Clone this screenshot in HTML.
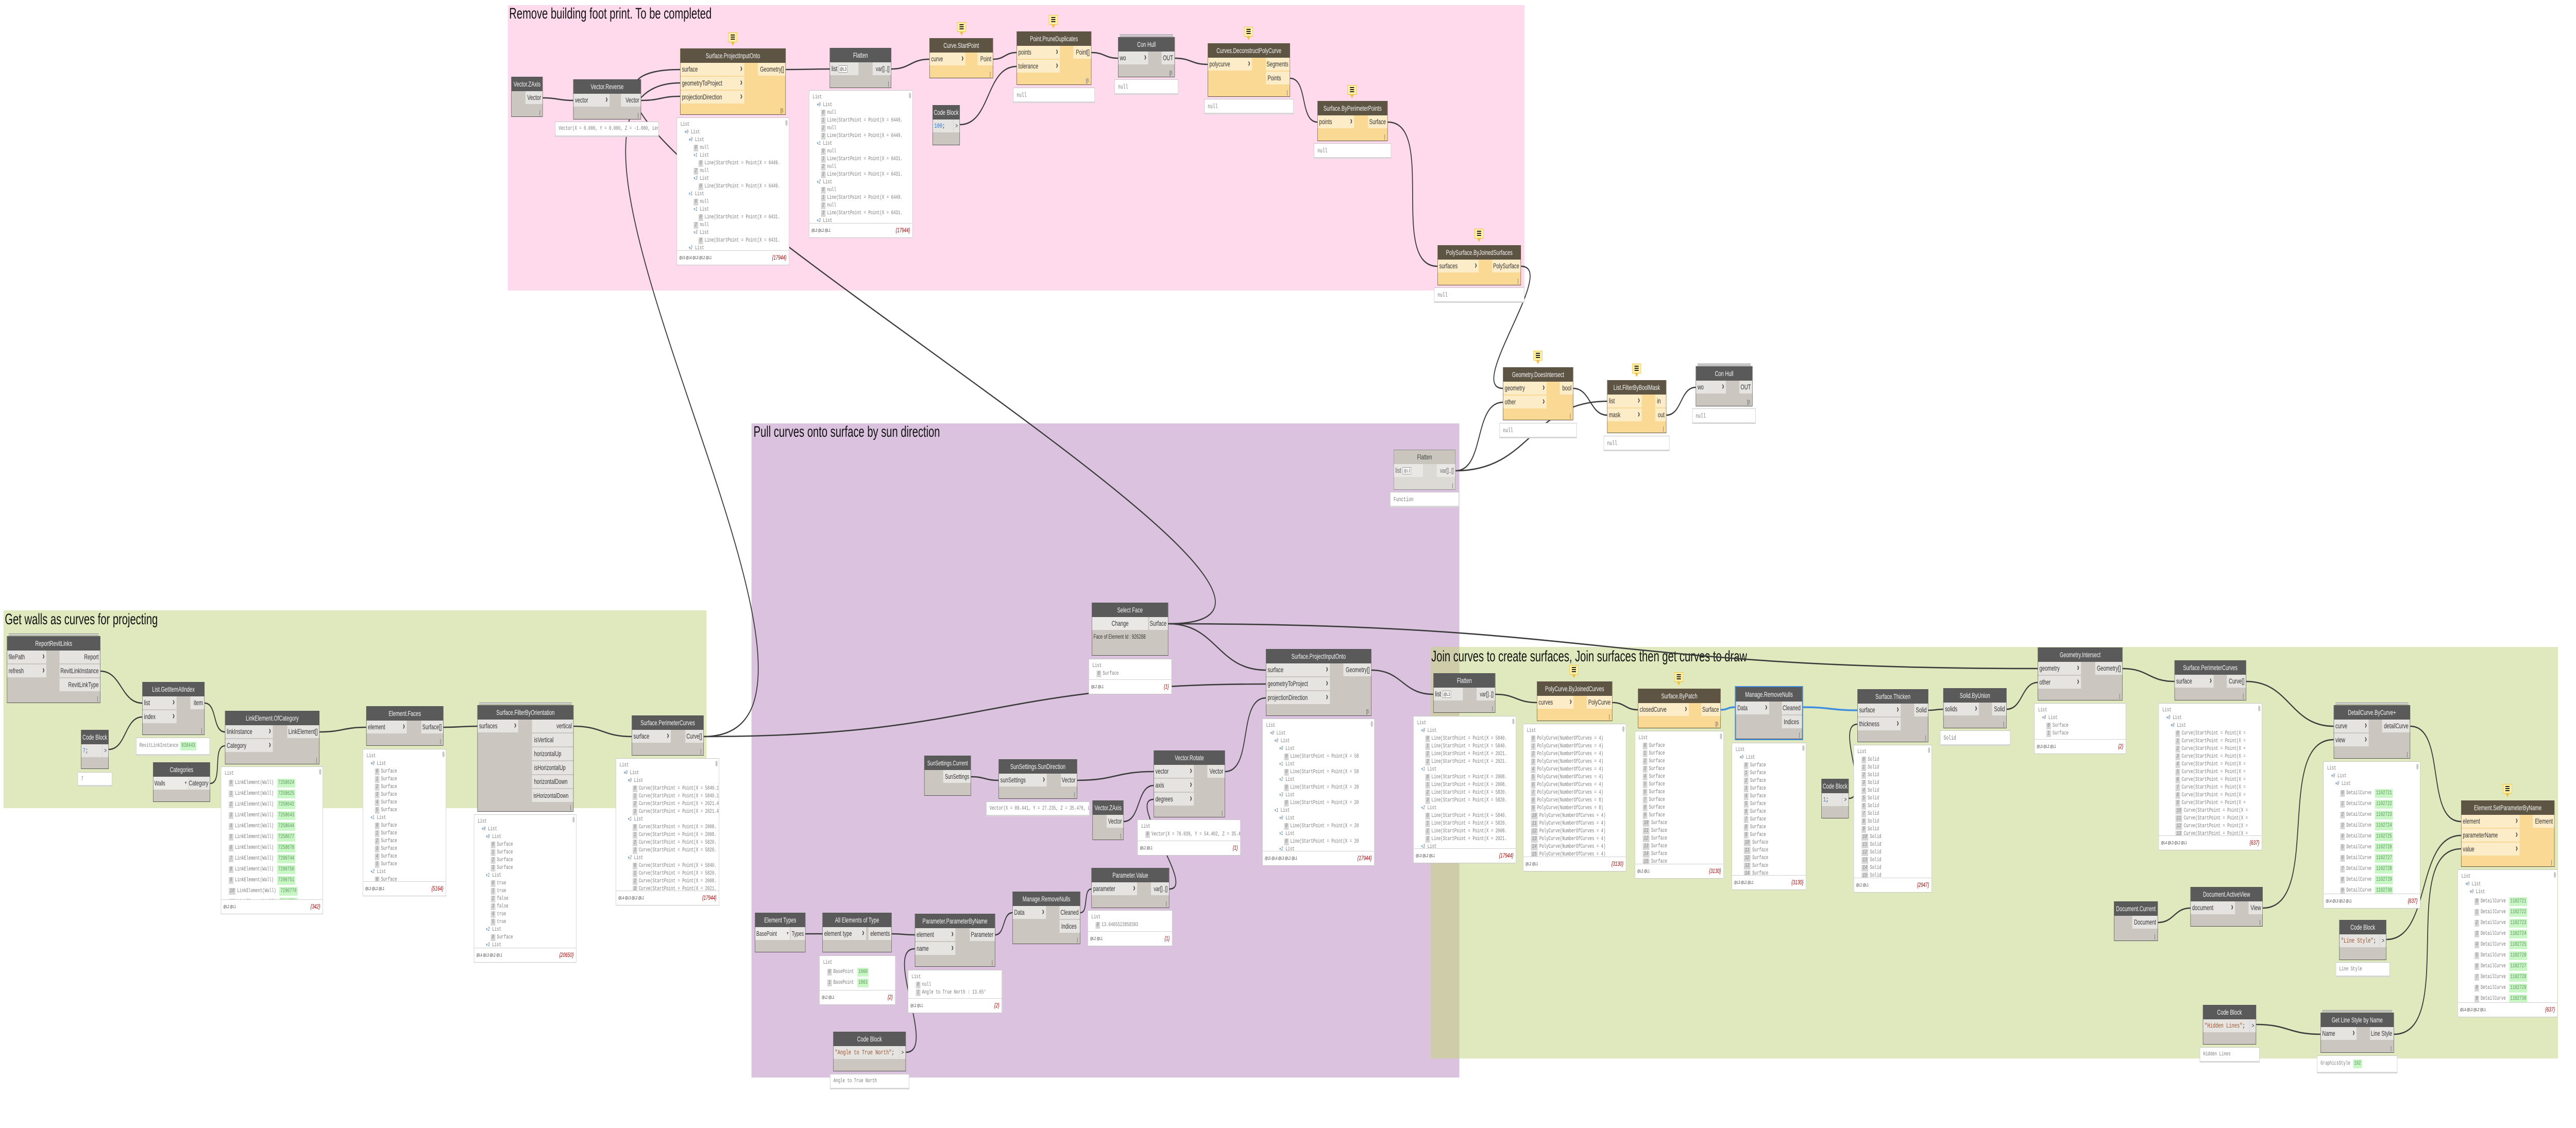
<!DOCTYPE html>
<html><head><meta charset="utf-8">
<style>
html,body{margin:0;padding:0;width:100%;height:100%;overflow:hidden;background:#fff}
#root{position:absolute;left:0;top:0;width:100vw;height:100vh;display:block}
#c{position:relative;width:7442px;height:2190px;overflow:hidden;background:#fff;font-family:"Liberation Sans",sans-serif}
.g{position:absolute;z-index:0}
.gt{position:absolute;font-size:30px;line-height:30px;color:#111;white-space:nowrap;z-index:1;font-family:"Liberation Sans",sans-serif}
svg.w{position:absolute;left:0;top:0;z-index:1}
.n{position:absolute;box-sizing:border-box;border:1px solid #555;background:#cbc7c0;z-index:2;font-family:"Liberation Sans",sans-serif}
.n .h{position:absolute;left:0;right:0;top:0;height:27px;background:#5a5a5a;color:#f5f5f5;font-size:14px;line-height:27px;text-align:center;white-space:nowrap;overflow:hidden}
.p{position:absolute;height:25px;line-height:25px;font-size:14px;color:#333;background:#e5e4e1;white-space:nowrap;overflow:hidden;box-sizing:border-box}
.pi{left:0;padding-left:4px}
.pi:after{content:"\203A";position:absolute;right:5px;top:0;font-weight:bold;font-size:20px;line-height:22px;color:#444}
.po{right:0;padding-right:4px;text-align:right}
.cb{left:0;padding-left:4px;font-family:"Liberation Mono",monospace;font-size:13px}
.cbo{right:0;width:18px;text-align:center;font-size:12px;border-left:1px solid #ccc}
.dd{left:0;padding-left:3px;font-size:13px;background:#ecebe8}
.dd:after{content:"\25BE";position:absolute;right:4px;top:0;font-size:10px;color:#666}
.o{background:#fad995;border-color:#5e5444}
.o .h{background:#5e5444}
.o .p{background:#fdecc8}
.fz{background:#dcdad5;border-color:#8a8a8a}
.fz .h{background:#cac6be;color:#444}
.fz .p{background:#e9e8e5;color:#666}
.f{position:absolute;right:6px;bottom:1px;font-size:11px;color:#555;font-style:normal}
.st:before{content:"";position:absolute;left:4px;right:4px;top:-6px;height:2px;border-top:1px solid #8a8a8a;border-bottom:1px solid #8a8a8a;background:#ddd}
.sel{outline:2px solid #3d8de0}
.lv3{display:inline-block;border:1px solid #999;background:#fff;font-size:9px;line-height:12px;padding:0 2px;margin-left:4px;vertical-align:middle}
.blue{color:#2a7ad5}
.str{color:#a0522d}
.cm{position:absolute;width:26px;height:19px;background:#fff0a6;border:1px solid #f0c040;box-sizing:border-box;z-index:3}
.cm:before{content:"";position:absolute;left:6px;top:3px;width:12px;height:2px;background:#222;box-shadow:0 4px 0 #222,0 8px 0 #222}
.cm:after{content:"";position:absolute;left:7px;top:18px;border-left:5px solid transparent;border-right:5px solid transparent;border-top:7px solid #f0c040}
.pv{position:absolute;box-sizing:border-box;background:#fff;border:1px solid #c6c6c6;font-family:"Liberation Mono",monospace;font-size:11px;color:#7a7a7a;overflow:hidden;z-index:2}
.pv.s{border-bottom:3px solid #d6d6d6;padding:7px 0 0 9px;font-size:12px;white-space:nowrap}
.pv .b{position:absolute;left:0;right:0;top:0;bottom:27px;padding:6px 0 0 10px;overflow:hidden}
.pv .ft{position:absolute;left:0;right:0;bottom:0;height:27px;border-top:1px solid #d0d0d0;font-family:"Liberation Sans",sans-serif}
.ft .lv{position:absolute;left:6px;top:9px;font-size:8px;color:#333}
.ft .ct{position:absolute;right:7px;top:6px;font-size:12px;color:#a00;font-style:italic}
.sb{position:absolute;right:4px;top:4px;width:6px;height:11px;border-radius:3px;background:#c8c8c8}
.r{height:15px;line-height:15px;white-space:nowrap;overflow:hidden}
.R{height:21px;line-height:21px;white-space:nowrap;overflow:hidden}
.x{display:inline-block;background:#d6d6d6;color:#888;font-style:italic;padding:0 3px;margin-right:5px;line-height:13px}
.gr{display:inline-block;background:#c8f7c5;color:#5a935a;padding:0 3px;margin-left:10px;line-height:17px;font-weight:normal}
.t{color:#5b9bd5;font-weight:normal;font-family:"DejaVu Sans",sans-serif;font-size:9px}
.a1{padding-left:12px}.a2{padding-left:24px}.a3{padding-left:38px}.a4{padding-left:52px}
</style></head><body>
<svg id="root" xmlns="http://www.w3.org/2000/svg" viewBox="0 0 7442 2190" preserveAspectRatio="none">
<foreignObject x="0" y="0" width="7442" height="2190">
<div id="c" xmlns="http://www.w3.org/1999/xhtml">

<!-- GROUPS -->
<div class="g" style="left:1467px;top:10px;width:2937px;height:554px;background:#ffd9ec"></div>
<div class="g" style="left:2171px;top:822px;width:2045px;height:1270px;background:#dbc3e0"></div>
<div class="g" style="left:10px;top:1185px;width:2031px;height:384px;background:#e0e8bd"></div>
<div class="g" style="left:4133px;top:1256px;width:3257px;height:799px;background:#e0e8bd"></div>
<div class="g" style="left:4133px;top:1256px;width:83px;height:799px;background:#cfcca9"></div>

<div class="gt" style="left:1471px;top:12px">Remove building foot print. To be completed</div>
<div class="gt" style="left:2177px;top:824px">Pull curves onto surface by sun direction</div>
<div class="gt" style="left:14px;top:1188px">Get walls as curves for projecting</div>
<div class="gt" style="left:4135px;top:1260px">Join curves to create surfaces, Join surfaces then get curves to draw</div>

<!-- WIRES -->
<svg class="w" xmlns="http://www.w3.org/2000/svg" width="7442" height="2190" viewBox="0 0 7442 2190">
<g fill="none" stroke="#3b3b3b" stroke-width="2.6">
<path d="M290 1303 C351 1303 350 1365 411 1365"/>
<path d="M314 1455 C365 1455 360 1392 411 1392"/>
<path d="M591 1365 C628 1365 613 1421 650 1421"/>
<path d="M607 1521 C645 1521 612 1448 650 1448"/>
<path d="M923 1421 C991 1421 990 1412 1058 1412"/>
<path d="M1281 1412 C1330 1412 1330 1410 1379 1410"/>
<path d="M1657 1410 C1741 1410 1741 1430 1825 1430"/>
<path d="M2033 1430 C2845 1430 2845 1328 3657 1328"/>
<path d="M2033 1430 C2605 1430 1393 161 1965 161"/>
<path d="M1568 190 C1612 190 1612 195 1656 195"/>
<path d="M1852 195 C1909 195 1908 187 1965 187"/>
<path d="M3375 1211 C4173 1211 1167 135 1965 135"/>
<path d="M2270 135 C2334 135 2333 134 2397 134"/>
<path d="M2575 134 C2630 134 2630 115 2685 115"/>
<path d="M2869 115 C2903 115 2903 102 2937 102"/>
<path d="M2773 242 C2863 242 2847 129 2937 129"/>
<path d="M3153 102 C3192 102 3191 113 3230 113"/>
<path d="M3394 113 C3442 113 3441 125 3489 125"/>
<path d="M3727 152 C3779 152 3754 237 3806 237"/>
<path d="M4009 237 C4151 237 4011 517 4153 517"/>
<path d="M4394 517 C4503 517 4233 754 4342 754"/>
<path d="M4205 914 C4291 914 4256 781 4342 781"/>
<path d="M4205 914 C4424 914 4424 779 4643 779"/>
<path d="M4545 754 C4595 754 4593 806 4643 806"/>
<path d="M4814 806 C4859 806 4854 752 4899 752"/>
<path d="M3375 1211 C3516 1211 3516 1301 3657 1301"/>
<path d="M3539 1498 C3622 1498 3574 1355 3657 1355"/>
<path d="M2805 1508 C2845 1508 2845 1515 2885 1515"/>
<path d="M3112 1515 C3223 1515 3222 1498 3333 1498"/>
<path d="M3246 1595 C3296 1595 3283 1525 3333 1525"/>
<path d="M3378 1726 C3459 1726 3252 1552 3333 1552"/>
<path d="M2327 1813 C2352 1813 2351 1813 2376 1813"/>
<path d="M2576 1813 C2610 1813 2609 1815 2643 1815"/>
<path d="M2617 2043 C2709 2043 2551 1842 2643 1842"/>
<path d="M2875 1815 C2905 1815 2895 1772 2925 1772"/>
<path d="M3121 1772 C3146 1772 3128 1726 3153 1726"/>
<path d="M3962 1301 C4052 1301 4051 1348 4141 1348"/>
<path d="M3375 1211 C4631 1211 4631 1298 5887 1298"/>
<path d="M4320 1348 C4380 1348 4380 1364 4440 1364"/>
<path d="M4658 1364 C4695 1364 4695 1378 4732 1378"/>
<path d="M5341 1550 C5407 1550 5300 1406 5366 1406"/>
<path d="M5571 1379 C5593 1379 5592 1377 5614 1377"/>
<path d="M5797 1377 C5844 1377 5840 1325 5887 1325"/>
<path d="M6132 1298 C6207 1298 6207 1323 6282 1323"/>
<path d="M6489 1323 C6616 1323 6615 1410 6742 1410"/>
<path d="M6234 1791 C6281 1791 6281 1763 6328 1763"/>
<path d="M6537 1763 C6711 1763 6568 1436 6742 1436"/>
<path d="M6963 1410 C7069 1410 7004 1595 7110 1595"/>
<path d="M6894 1824 C7026 1824 6978 1622 7110 1622"/>
<path d="M6518 1989 C6611 1989 6611 2008 6704 2008"/>
<path d="M6916 2008 C7100 2008 6926 1648 7110 1648"/>
</g>
<g fill="none" stroke="#3d8de0" stroke-width="3.5">
<path d="M4971 1378 C4992 1378 4991 1373 5012 1373"/>
<path d="M5209 1373 C5288 1373 5287 1379 5366 1379"/>
</g>
</svg>

<!-- LEFT GREEN NODES -->
<div class="n st" style="left:20px;top:1235px;width:270px;height:130px"><div class="h">ReportRevitLinks</div>
<div class="p pi" style="top:27px;width:113px">filePath</div><div class="p pi" style="top:54px;width:113px">refresh</div>
<div class="p po" style="top:27px;width:117px">Report</div><div class="p po" style="top:54px;width:117px">RevitLinkInstance</div><div class="p po" style="top:81px;width:117px">RevitLinkType</div><i class="f">|</i></div>

<div class="n" style="left:411px;top:1324px;width:180px;height:103px"><div class="h">List.GetItemAtIndex</div>
<div class="p pi" style="top:27px;width:98px">list</div><div class="p pi" style="top:54px;width:98px">index</div>
<div class="p po" style="top:27px;width:40px">item</div><i class="f">|</i></div>
<div class="pv s" style="left:393px;top:1432px;width:213px;height:35px;font-size:11px">RevitLinkInstance<b class="gr" style="margin-left:6px">838443</b></div>

<div class="n" style="left:234px;top:1417px;width:80px;height:76px"><div class="h">Code Block</div>
<div class="p cb" style="top:27px;width:62px"><span class="blue">7</span>;</div><div class="p cbo" style="top:27px">&gt;</div></div>
<div class="pv s" style="left:224px;top:1499px;width:100px;height:28px;font-size:11px">7</div>

<div class="n" style="left:442px;top:1480px;width:165px;height:77px"><div class="h">Categories</div>
<div class="p dd" style="top:27px;width:100px">Walls</div><div class="p po" style="top:27px;width:64px">Category</div></div>

<div class="n" style="left:650px;top:1380px;width:273px;height:104px"><div class="h">LinkElement.OfCategory</div>
<div class="p pi" style="top:27px;width:137px">linkInstance</div><div class="p pi" style="top:54px;width:137px">Category</div>
<div class="p po" style="top:27px;width:92px">LinkElement[]</div><i class="f">|</i></div>
<div class="pv" style="left:638px;top:1488px;width:295px;height:287px"><div class="b"><div class="r">List</div>
<div class="R a1"><i class="x">0</i>LinkElement(Wall)<b class="gr">7258624</b></div>
<div class="R a1"><i class="x">1</i>LinkElement(Wall)<b class="gr">7258625</b></div>
<div class="R a1"><i class="x">2</i>LinkElement(Wall)<b class="gr">7258642</b></div>
<div class="R a1"><i class="x">3</i>LinkElement(Wall)<b class="gr">7258643</b></div>
<div class="R a1"><i class="x">4</i>LinkElement(Wall)<b class="gr">7258644</b></div>
<div class="R a1"><i class="x">5</i>LinkElement(Wall)<b class="gr">7258677</b></div>
<div class="R a1"><i class="x">6</i>LinkElement(Wall)<b class="gr">7258678</b></div>
<div class="R a1"><i class="x">7</i>LinkElement(Wall)<b class="gr">7290744</b></div>
<div class="R a1"><i class="x">8</i>LinkElement(Wall)<b class="gr">7290750</b></div>
<div class="R a1"><i class="x">9</i>LinkElement(Wall)<b class="gr">7290751</b></div>
<div class="R a1"><i class="x">10</i>LinkElement(Wall)<b class="gr">7290770</b></div>
<div class="R a1"><i class="x">11</i>LinkElement(Wall)<b class="gr">7290771</b></div>
</div><div class="ft"><span class="lv">@L2 @L1</span><span class="ct">{342}</span></div><span class="sb"></span></div>

<div class="n" style="left:1058px;top:1371px;width:223px;height:77px"><div class="h">Element.Faces</div>
<div class="p pi" style="top:27px;width:116px">element</div><div class="p po" style="top:27px;width:63px">Surface[]</div><i class="f">|</i></div>
<div class="pv" style="left:1048px;top:1454px;width:241px;height:286px"><div class="b"><div class="r">List</div>
<div class="r a1"><b class="t">▾</b><i>0</i> List</div>
<div class="r a2"><i class="x">0</i>Surface</div><div class="r a2"><i class="x">1</i>Surface</div><div class="r a2"><i class="x">2</i>Surface</div><div class="r a2"><i class="x">3</i>Surface</div><div class="r a2"><i class="x">4</i>Surface</div><div class="r a2"><i class="x">5</i>Surface</div>
<div class="r a1"><b class="t">▾</b><i>1</i> List</div>
<div class="r a2"><i class="x">0</i>Surface</div><div class="r a2"><i class="x">1</i>Surface</div><div class="r a2"><i class="x">2</i>Surface</div><div class="r a2"><i class="x">3</i>Surface</div><div class="r a2"><i class="x">4</i>Surface</div><div class="r a2"><i class="x">5</i>Surface</div>
<div class="r a1"><b class="t">▾</b><i>2</i> List</div>
<div class="r a2"><i class="x">0</i>Surface</div>
</div><div class="ft"><span class="lv">@L3 @L2 @L1</span><span class="ct">{5164}</span></div><span class="sb"></span></div>

<div class="n st" style="left:1379px;top:1369px;width:278px;height:207px"><div class="h">Surface.FilterByOrientation</div>
<div class="p pi" style="top:27px;width:117px">surfaces</div>
<div class="p po" style="top:27px;width:119px">vertical</div><div class="p po" style="top:54px;width:119px;text-align:left;padding-left:6px">isVertical</div><div class="p po" style="top:81px;width:119px;text-align:left;padding-left:6px">horizontalUp</div><div class="p po" style="top:108px;width:119px;text-align:left;padding-left:6px">isHorizontalUp</div><div class="p po" style="top:135px;width:119px;text-align:left;padding-left:6px">horizontalDown</div><div class="p po" style="top:162px;width:119px;text-align:left;padding-left:4px;font-size:13px">isHorizontalDown</div><i class="f">|</i></div>
<div class="pv" style="left:1369px;top:1581px;width:296px;height:288px"><div class="b"><div class="r">List</div>
<div class="r a1"><b class="t">▾</b><i>0</i> List</div>
<div class="r a2"><b class="t">▾</b><i>0</i> List</div>
<div class="r a3"><i class="x">0</i>Surface</div><div class="r a3"><i class="x">1</i>Surface</div><div class="r a3"><i class="x">2</i>Surface</div><div class="r a3"><i class="x">3</i>Surface</div>
<div class="r a2"><b class="t">▾</b><i>1</i> List</div>
<div class="r a3"><i class="x">0</i>true</div><div class="r a3"><i class="x">1</i>true</div><div class="r a3"><i class="x">2</i>false</div><div class="r a3"><i class="x">3</i>false</div><div class="r a3"><i class="x">4</i>true</div><div class="r a3"><i class="x">5</i>true</div>
<div class="r a2"><b class="t">▾</b><i>2</i> List</div>
<div class="r a3"><i class="x">0</i>Surface</div>
<div class="r a2"><b class="t">▾</b><i>3</i> List</div>
</div><div class="ft"><span class="lv">@L4 @L3 @L2 @L1</span><span class="ct">{20650}</span></div><span class="sb"></span></div>

<div class="n" style="left:1825px;top:1389px;width:208px;height:78px"><div class="h">Surface.PerimeterCurves</div>
<div class="p pi" style="top:27px;width:112px">surface</div><div class="p po" style="top:27px;width:52px">Curve[]</div><i class="f">|</i></div>
<div class="pv" style="left:1779px;top:1472px;width:299px;height:286px"><div class="b"><div class="r">List</div>
<div class="r a1"><b class="t">▾</b><i>0</i> List</div>
<div class="r a2"><b class="t">▾</b><i>0</i> List</div>
<div class="r a3"><i class="x">0</i>Curve(StartPoint = Point(X = 5840.1</div><div class="r a3"><i class="x">1</i>Curve(StartPoint = Point(X = 5840.1</div><div class="r a3"><i class="x">2</i>Curve(StartPoint = Point(X = 2021.4</div><div class="r a3"><i class="x">3</i>Curve(StartPoint = Point(X = 2021.4</div>
<div class="r a2"><b class="t">▾</b><i>1</i> List</div>
<div class="r a3"><i class="x">0</i>Curve(StartPoint = Point(X = 2008.</div><div class="r a3"><i class="x">1</i>Curve(StartPoint = Point(X = 2008.</div><div class="r a3"><i class="x">2</i>Curve(StartPoint = Point(X = 5820.</div><div class="r a3"><i class="x">3</i>Curve(StartPoint = Point(X = 5820.</div>
<div class="r a2"><b class="t">▾</b><i>2</i> List</div>
<div class="r a3"><i class="x">0</i>Curve(StartPoint = Point(X = 5840.</div><div class="r a3"><i class="x">1</i>Curve(StartPoint = Point(X = 5820.</div><div class="r a3"><i class="x">2</i>Curve(StartPoint = Point(X = 2008.</div><div class="r a3"><i class="x">3</i>Curve(StartPoint = Point(X = 2021.</div>
</div><div class="ft"><span class="lv">@L4 @L3 @L2 @L1</span><span class="ct">{17944}</span></div><span class="sb"></span></div>

<!-- PINK NODES -->
<div class="n" style="left:1477px;top:149px;width:91px;height:78px"><div class="h">Vector.ZAxis</div>
<div class="p po" style="top:27px;width:49px">Vector</div><i class="f">|</i></div>

<div class="n" style="left:1656px;top:154px;width:196px;height:78px"><div class="h">Vector.Reverse</div>
<div class="p pi" style="top:27px;width:104px">vector</div><div class="p po" style="top:27px;width:57px">Vector</div><i class="f">|</i></div>
<div class="pv s" style="left:1604px;top:236px;width:299px;height:30px;font-size:11px">Vector(X = 0.000, Y = 0.000, Z = -1.000, Length</div>

<div class="cm" style="left:2104px;top:63px"></div>
<div class="n o" style="left:1965px;top:94px;width:305px;height:129px"><div class="h">Surface.ProjectInputOnto</div>
<div class="p pi" style="top:27px;width:184px">surface</div><div class="p pi" style="top:54px;width:184px">geometryToProject</div><div class="p pi" style="top:81px;width:184px">projectionDirection</div>
<div class="p po" style="top:27px;width:80px">Geometry[]</div><i class="f">||\</i></div>
<div class="pv" style="left:1955px;top:228px;width:325px;height:287px"><div class="b"><div class="r">List</div>
<div class="r a1"><b class="t">▾</b><i>0</i> List</div>
<div class="r a2"><b class="t">▾</b><i>0</i> List</div>
<div class="r a3"><i class="x">0</i>null</div>
<div class="r a3"><b class="t">▾</b><i>1</i> List</div>
<div class="r a4"><i class="x">0</i>Line(StartPoint = Point(X = 6449.</div>
<div class="r a3"><i class="x">2</i>null</div>
<div class="r a3"><b class="t">▾</b><i>3</i> List</div>
<div class="r a4"><i class="x">0</i>Line(StartPoint = Point(X = 6449.</div>
<div class="r a2"><b class="t">▾</b><i>1</i> List</div>
<div class="r a3"><i class="x">0</i>null</div>
<div class="r a3"><b class="t">▾</b><i>1</i> List</div>
<div class="r a4"><i class="x">0</i>Line(StartPoint = Point(X = 6431.</div>
<div class="r a3"><i class="x">2</i>null</div>
<div class="r a3"><b class="t">▾</b><i>3</i> List</div>
<div class="r a4"><i class="x">0</i>Line(StartPoint = Point(X = 6431.</div>
<div class="r a2"><b class="t">▾</b><i>2</i> List</div>
</div><div class="ft"><span class="lv">@L5 @L4 @L3 @L2 @L1</span><span class="ct">{17944}</span></div><span class="sb"></span></div>

<div class="n" style="left:2397px;top:93px;width:178px;height:78px"><div class="h">Flatten</div>
<div class="p" style="top:27px;left:0;width:82px;padding-left:4px">list<span class="lv3">@L3</span></div><div class="p po" style="top:27px;width:53px;font-size:13px">var[]..[]</div><i class="f">|</i></div>
<div class="pv" style="left:2337px;top:175px;width:300px;height:287px"><div class="b"><div class="r">List</div>
<div class="r a1"><b class="t">▾</b><i>0</i> List</div>
<div class="r a2"><i class="x">0</i>null</div><div class="r a2"><i class="x">1</i>Line(StartPoint = Point(X = 6449.</div><div class="r a2"><i class="x">2</i>null</div><div class="r a2"><i class="x">3</i>Line(StartPoint = Point(X = 6449.</div>
<div class="r a1"><b class="t">▾</b><i>1</i> List</div>
<div class="r a2"><i class="x">0</i>null</div><div class="r a2"><i class="x">1</i>Line(StartPoint = Point(X = 6431.</div><div class="r a2"><i class="x">2</i>null</div><div class="r a2"><i class="x">3</i>Line(StartPoint = Point(X = 6431.</div>
<div class="r a1"><b class="t">▾</b><i>2</i> List</div>
<div class="r a2"><i class="x">0</i>null</div><div class="r a2"><i class="x">1</i>Line(StartPoint = Point(X = 6449.</div><div class="r a2"><i class="x">2</i>null</div><div class="r a2"><i class="x">3</i>Line(StartPoint = Point(X = 6431.</div>
<div class="r a1"><b class="t">▾</b><i>3</i> List</div>
</div><div class="ft"><span class="lv">@L3 @L2 @L1</span><span class="ct">{17944}</span></div><span class="sb"></span></div>

<div class="cm" style="left:2765px;top:43px"></div>
<div class="n o" style="left:2685px;top:74px;width:184px;height:78px"><div class="h">Curve.StartPoint</div>
<div class="p pi" style="top:27px;width:103px">curve</div><div class="p po" style="top:27px;width:44px">Point</div><i class="f">|</i></div>

<div class="n" style="left:2694px;top:204px;width:79px;height:78px"><div class="h">Code Block</div>
<div class="p cb" style="top:27px;width:61px"><span class="blue">100</span>;</div><div class="p cbo" style="top:27px">&gt;</div></div>

<div class="cm" style="left:3030px;top:29px"></div>
<div class="n o" style="left:2937px;top:61px;width:216px;height:104px"><div class="h">Point.PruneDuplicates</div>
<div class="p pi" style="top:27px;width:124px">points</div><div class="p pi" style="top:54px;width:124px">tolerance</div>
<div class="p po" style="top:27px;width:51px">Point[]</div><i class="f">||\</i></div>
<div class="pv s" style="left:2927px;top:170px;width:236px;height:30px">null</div>

<div class="n st" style="left:3230px;top:72px;width:164px;height:78px"><div class="h">Con Hull</div>
<div class="p pi" style="top:27px;width:86px">wo</div><div class="p po" style="top:27px;width:37px">OUT</div><i class="f">||\</i></div>
<div class="pv s" style="left:3220px;top:154px;width:184px;height:30px">null</div>

<div class="cm" style="left:3594px;top:52px"></div>
<div class="n o" style="left:3489px;top:84px;width:238px;height:104px"><div class="h">Curves.DeconstructPolyCurve</div>
<div class="p pi" style="top:27px;width:127px">polycurve</div>
<div class="p po" style="top:27px;width:69px">Segments</div><div class="p po" style="top:54px;width:69px;text-align:left;padding-left:5px">Points</div><i class="f">|</i></div>
<div class="pv s" style="left:3479px;top:192px;width:258px;height:30px">null</div>

<div class="cm" style="left:3893px;top:165px"></div>
<div class="n o" style="left:3806px;top:196px;width:203px;height:78px"><div class="h">Surface.ByPerimeterPoints</div>
<div class="p pi" style="top:27px;width:105px">points</div><div class="p po" style="top:27px;width:56px">Surface</div><i class="f">|</i></div>
<div class="pv s" style="left:3796px;top:278px;width:223px;height:30px">null</div>

<div class="cm" style="left:4260px;top:444px"></div>
<div class="n o" style="left:4153px;top:476px;width:241px;height:78px"><div class="h">PolySurface.ByJoinedSurfaces</div>
<div class="p pi" style="top:27px;width:118px">surfaces</div><div class="p po" style="top:27px;width:82px">PolySurface</div><i class="f">|</i></div>
<div class="pv s" style="left:4143px;top:558px;width:261px;height:30px">null</div>

<!-- OUTSIDE (WHITE) NODES -->
<div class="cm" style="left:4430px;top:681px"></div>
<div class="n o" style="left:4342px;top:713px;width:203px;height:103px"><div class="h">Geometry.DoesIntersect</div>
<div class="p pi" style="top:27px;width:125px">geometry</div><div class="p pi" style="top:54px;width:125px">other</div>
<div class="p po" style="top:27px;width:38px">bool</div><i class="f">|</i></div>
<div class="pv s" style="left:4332px;top:821px;width:223px;height:30px">null</div>

<div class="cm" style="left:4715px;top:706px"></div>
<div class="n o" style="left:4643px;top:738px;width:171px;height:103px"><div class="h">List.FilterByBoolMask</div>
<div class="p pi" style="top:27px;width:99px">list</div><div class="p pi" style="top:54px;width:99px">mask</div>
<div class="p po" style="top:27px;width:31px;text-align:left;padding-left:5px">in</div><div class="p po" style="top:54px;width:31px">out</div><i class="f">|</i></div>
<div class="pv s" style="left:4633px;top:846px;width:190px;height:30px">null</div>

<div class="n st" style="left:4899px;top:711px;width:164px;height:78px"><div class="h">Con Hull</div>
<div class="p pi" style="top:27px;width:86px">wo</div><div class="p po" style="top:27px;width:37px">OUT</div><i class="f">||\</i></div>
<div class="pv s" style="left:4889px;top:793px;width:183px;height:30px">null</div>

<!-- PURPLE NODES -->
<div class="n fz" style="left:4026px;top:873px;width:179px;height:78px"><div class="h">Flatten</div>
<div class="p" style="top:27px;left:0;width:84px;padding-left:4px">list<span class="lv3">@L3</span></div><div class="p po" style="top:27px;width:53px;font-size:13px">var[]..[]</div><i class="f">|</i></div>
<div class="pv s" style="left:4016px;top:955px;width:199px;height:30px">Function</div>

<div class="n" style="left:3154px;top:1170px;width:221px;height:103px"><div class="h">Select Face</div>
<div class="p" style="top:27px;left:0;width:162px;text-align:center;background:#e9e8e5">Change</div><div class="p po" style="top:27px;width:54px">Surface</div>
<div style="position:absolute;left:4px;top:58px;font-size:12px;color:#333;white-space:nowrap">Face of Element Id : 926288</div></div>
<div class="pv" style="left:3145px;top:1279px;width:240px;height:69px"><div class="b"><div class="r">List</div><div class="r a1"><i class="x">0</i>Surface</div></div><div class="ft"><span class="lv">@L2 @L1</span><span class="ct">{1}</span></div></div>

<div class="n" style="left:3657px;top:1260px;width:305px;height:130px"><div class="h">Surface.ProjectInputOnto</div>
<div class="p pi" style="top:27px;width:184px">surface</div><div class="p pi" style="top:54px;width:184px">geometryToProject</div><div class="p pi" style="top:81px;width:184px">projectionDirection</div>
<div class="p po" style="top:27px;width:80px">Geometry[]</div><i class="f">||\</i></div>
<div class="pv" style="left:3647px;top:1395px;width:324px;height:286px"><div class="b"><div class="r">List</div>
<div class="r a1"><b class="t">▾</b><i>0</i> List</div>
<div class="r a2"><b class="t">▾</b><i>0</i> List</div>
<div class="r a3"><b class="t">▾</b><i>0</i> List</div><div class="r a4"><i class="x">0</i>Line(StartPoint = Point(X = 58</div>
<div class="r a3"><b class="t">▾</b><i>1</i> List</div><div class="r a4"><i class="x">0</i>Line(StartPoint = Point(X = 58</div>
<div class="r a3"><b class="t">▾</b><i>2</i> List</div><div class="r a4"><i class="x">0</i>Line(StartPoint = Point(X = 20</div>
<div class="r a3"><b class="t">▾</b><i>3</i> List</div><div class="r a4"><i class="x">0</i>Line(StartPoint = Point(X = 20</div>
<div class="r a2"><b class="t">▾</b><i>1</i> List</div>
<div class="r a3"><b class="t">▾</b><i>0</i> List</div><div class="r a4"><i class="x">0</i>Line(StartPoint = Point(X = 20</div>
<div class="r a3"><b class="t">▾</b><i>1</i> List</div><div class="r a4"><i class="x">0</i>Line(StartPoint = Point(X = 20</div>
<div class="r a3"><b class="t">▾</b><i>2</i> List</div>
</div><div class="ft"><span class="lv">@L5 @L4 @L3 @L2 @L1</span><span class="ct">{17944}</span></div><span class="sb"></span></div>

<div class="n" style="left:2670px;top:1467px;width:135px;height:78px"><div class="h" style="font-size:13px">SunSettings.Current</div>
<div class="p po" style="top:27px;width:79px;font-size:13px">SunSettings</div></div>

<div class="n" style="left:2885px;top:1474px;width:227px;height:77px"><div class="h">SunSettings.SunDirection</div>
<div class="p pi" style="top:27px;width:138px">sunSettings</div><div class="p po" style="top:27px;width:46px">Vector</div><i class="f">|</i></div>
<div class="pv s" style="left:2849px;top:1556px;width:299px;height:29px;font-size:11px">Vector(X = 89.441, Y = 27.235, Z = 35.476, Length</div>

<div class="n" style="left:3156px;top:1554px;width:90px;height:77px"><div class="h">Vector.ZAxis</div>
<div class="p po" style="top:27px;width:48px">Vector</div><i class="f">|</i></div>

<div class="n" style="left:3333px;top:1457px;width:206px;height:130px"><div class="h">Vector.Rotate</div>
<div class="p pi" style="top:27px;width:115px">vector</div><div class="p pi" style="top:54px;width:115px">axis</div><div class="p pi" style="top:81px;width:115px">degrees</div>
<div class="p po" style="top:27px;width:50px">Vector</div><i class="f">|</i></div>
<div class="pv" style="left:3286px;top:1591px;width:298px;height:70px"><div class="b"><div class="r">List</div><div class="r a1"><i class="x">0</i>Vector(X = 76.039, Y = 54.402, Z = 35.476</div></div><div class="ft"><span class="lv">@L2 @L1</span><span class="ct">{1}</span></div></div>

<div class="n" style="left:3153px;top:1685px;width:225px;height:78px"><div class="h">Parameter.Value</div>
<div class="p pi" style="top:27px;width:131px">parameter</div><div class="p po" style="top:27px;width:52px;font-size:13px">var[]..[]</div><i class="f">|</i></div>
<div class="pv" style="left:3142px;top:1767px;width:245px;height:70px"><div class="b"><div class="r">List</div><div class="r a1"><i class="x">0</i>13.6465522858393</div></div><div class="ft"><span class="lv">@L2 @L1</span><span class="ct">{1}</span></div></div>

<div class="n" style="left:2925px;top:1731px;width:196px;height:102px"><div class="h">Manage.RemoveNulls</div>
<div class="p pi" style="top:27px;width:96px">Data</div>
<div class="p po" style="top:27px;width:59px">Cleaned</div><div class="p po" style="top:54px;width:59px;text-align:left;padding-left:5px">Indices</div><i class="f">|</i></div>

<div class="n" style="left:2643px;top:1774px;width:232px;height:103px"><div class="h">Parameter.ParameterByName</div>
<div class="p pi" style="top:27px;width:116px">element</div><div class="p pi" style="top:54px;width:116px">name</div>
<div class="p po" style="top:27px;width:72px">Parameter</div><i class="f">|</i></div>
<div class="pv" style="left:2623px;top:1883px;width:272px;height:84px"><div class="b"><div class="r">List</div><div class="r a1"><i class="x">0</i>null</div><div class="r a1"><i class="x">1</i>Angle to True North : 13.65°</div></div><div class="ft"><span class="lv">@L2 @L1</span><span class="ct">{2}</span></div></div>

<div class="n" style="left:2376px;top:1772px;width:200px;height:77px"><div class="h">All Elements of Type</div>
<div class="p pi" style="top:27px;width:125px">element type</div><div class="p po" style="top:27px;width:66px">elements</div></div>
<div class="pv" style="left:2367px;top:1855px;width:220px;height:96px"><div class="b"><div class="r">List</div><div class="R a1"><i class="x">0</i>BasePoint<b class="gr">1060</b></div><div class="R a1"><i class="x">1</i>BasePoint<b class="gr">1063</b></div></div><div class="ft"><span class="lv">@L2 @L1</span><span class="ct">{2}</span></div></div>

<div class="n" style="left:2181px;top:1772px;width:146px;height:77px"><div class="h">Element Types</div>
<div class="p dd" style="top:27px;width:100px">BasePoint</div><div class="p po" style="top:27px;width:42px;font-size:13px">Types</div></div>

<div class="n" style="left:2407px;top:2003px;width:210px;height:77px"><div class="h">Code Block</div>
<div class="p cb" style="top:27px;width:192px"><span class="str">"Angle to True North"</span>;</div><div class="p cbo" style="top:27px">&gt;</div></div>
<div class="pv s" style="left:2398px;top:2085px;width:229px;height:30px;font-size:11px">Angle to True North</div>

<!-- RIGHT GREEN NODES -->
<div class="n" style="left:4141px;top:1307px;width:179px;height:77px"><div class="h">Flatten</div>
<div class="p" style="top:27px;left:0;width:84px;padding-left:4px">list<span class="lv3">@L3</span></div><div class="p po" style="top:27px;width:53px;font-size:13px">var[]..[]</div><i class="f">|</i></div>
<div class="pv" style="left:4083px;top:1390px;width:297px;height:286px"><div class="b"><div class="r">List</div>
<div class="r a1"><b class="t">▾</b><i>0</i> List</div>
<div class="r a2"><i class="x">0</i>Line(StartPoint = Point(X = 5840.</div><div class="r a2"><i class="x">1</i>Line(StartPoint = Point(X = 5840.</div><div class="r a2"><i class="x">2</i>Line(StartPoint = Point(X = 2021.</div><div class="r a2"><i class="x">3</i>Line(StartPoint = Point(X = 2021.</div>
<div class="r a1"><b class="t">▾</b><i>1</i> List</div>
<div class="r a2"><i class="x">0</i>Line(StartPoint = Point(X = 2008.</div><div class="r a2"><i class="x">1</i>Line(StartPoint = Point(X = 2008.</div><div class="r a2"><i class="x">2</i>Line(StartPoint = Point(X = 5820.</div><div class="r a2"><i class="x">3</i>Line(StartPoint = Point(X = 5820.</div>
<div class="r a1"><b class="t">▾</b><i>2</i> List</div>
<div class="r a2"><i class="x">0</i>Line(StartPoint = Point(X = 5840.</div><div class="r a2"><i class="x">1</i>Line(StartPoint = Point(X = 5820.</div><div class="r a2"><i class="x">2</i>Line(StartPoint = Point(X = 2008.</div><div class="r a2"><i class="x">3</i>Line(StartPoint = Point(X = 2021.</div>
<div class="r a1"><b class="t">▾</b><i>3</i> List</div>
</div><div class="ft"><span class="lv">@L3 @L2 @L1</span><span class="ct">{17944}</span></div><span class="sb"></span></div>

<div class="cm" style="left:4534px;top:1291px"></div>
<div class="n o" style="left:4440px;top:1323px;width:218px;height:77px"><div class="h">PolyCurve.ByJoinedCurves</div>
<div class="p pi" style="top:27px;width:105px">curves</div><div class="p po" style="top:27px;width:73px">PolyCurve</div><i class="f">|</i></div>
<div class="pv" style="left:4400px;top:1405px;width:298px;height:287px"><div class="b"><div class="r">List</div>
<div class="r a1"><i class="x">0</i>PolyCurve(NumberOfCurves = 4)</div><div class="r a1"><i class="x">1</i>PolyCurve(NumberOfCurves = 4)</div><div class="r a1"><i class="x">2</i>PolyCurve(NumberOfCurves = 4)</div><div class="r a1"><i class="x">3</i>PolyCurve(NumberOfCurves = 4)</div><div class="r a1"><i class="x">4</i>PolyCurve(NumberOfCurves = 4)</div><div class="r a1"><i class="x">5</i>PolyCurve(NumberOfCurves = 4)</div><div class="r a1"><i class="x">6</i>PolyCurve(NumberOfCurves = 4)</div><div class="r a1"><i class="x">7</i>PolyCurve(NumberOfCurves = 4)</div><div class="r a1"><i class="x">8</i>PolyCurve(NumberOfCurves = 8)</div><div class="r a1"><i class="x">9</i>PolyCurve(NumberOfCurves = 8)</div><div class="r a1"><i class="x">10</i>PolyCurve(NumberOfCurves = 4)</div><div class="r a1"><i class="x">11</i>PolyCurve(NumberOfCurves = 4)</div><div class="r a1"><i class="x">12</i>PolyCurve(NumberOfCurves = 4)</div><div class="r a1"><i class="x">13</i>PolyCurve(NumberOfCurves = 4)</div><div class="r a1"><i class="x">14</i>PolyCurve(NumberOfCurves = 4)</div><div class="r a1"><i class="x">15</i>PolyCurve(NumberOfCurves = 4)</div>
</div><div class="ft"><span class="lv">@L2 @L1</span><span class="ct">{3130}</span></div><span class="sb"></span></div>

<div class="cm" style="left:4837px;top:1305px"></div>
<div class="n o" style="left:4732px;top:1337px;width:239px;height:77px"><div class="h">Surface.ByPatch</div>
<div class="p pi" style="top:27px;width:146px">closedCurve</div><div class="p po" style="top:27px;width:55px">Surface</div><i class="f">||\</i></div>
<div class="pv" style="left:4723px;top:1419px;width:257px;height:287px"><div class="b"><div class="r">List</div>
<div class="r a1"><i class="x">0</i>Surface</div><div class="r a1"><i class="x">1</i>Surface</div><div class="r a1"><i class="x">2</i>Surface</div><div class="r a1"><i class="x">3</i>Surface</div><div class="r a1"><i class="x">4</i>Surface</div><div class="r a1"><i class="x">5</i>Surface</div><div class="r a1"><i class="x">6</i>Surface</div><div class="r a1"><i class="x">7</i>Surface</div><div class="r a1"><i class="x">8</i>Surface</div><div class="r a1"><i class="x">9</i>Surface</div><div class="r a1"><i class="x">10</i>Surface</div><div class="r a1"><i class="x">11</i>Surface</div><div class="r a1"><i class="x">12</i>Surface</div><div class="r a1"><i class="x">13</i>Surface</div><div class="r a1"><i class="x">14</i>Surface</div><div class="r a1"><i class="x">15</i>Surface</div>
</div><div class="ft"><span class="lv">@L2 @L1</span><span class="ct">{3130}</span></div><span class="sb"></span></div>

<div class="n sel" style="left:5014px;top:1334px;width:193px;height:101px"><div class="h">Manage.RemoveNulls</div>
<div class="p pi" style="top:27px;width:96px">Data</div>
<div class="p po" style="top:27px;width:58px">Cleaned</div><div class="p po" style="top:54px;width:58px;text-align:left;padding-left:5px">Indices</div><i class="f">|</i></div>
<div class="pv" style="left:5003px;top:1442px;width:215px;height:286px"><div class="b"><div class="r">List</div>
<div class="r a1"><b class="t">▾</b><i>0</i> List</div>
<div class="r a2"><i class="x">0</i>Surface</div><div class="r a2"><i class="x">1</i>Surface</div><div class="r a2"><i class="x">2</i>Surface</div><div class="r a2"><i class="x">3</i>Surface</div><div class="r a2"><i class="x">4</i>Surface</div><div class="r a2"><i class="x">5</i>Surface</div><div class="r a2"><i class="x">6</i>Surface</div><div class="r a2"><i class="x">7</i>Surface</div><div class="r a2"><i class="x">8</i>Surface</div><div class="r a2"><i class="x">9</i>Surface</div><div class="r a2"><i class="x">10</i>Surface</div><div class="r a2"><i class="x">11</i>Surface</div><div class="r a2"><i class="x">12</i>Surface</div><div class="r a2"><i class="x">13</i>Surface</div><div class="r a2"><i class="x">14</i>Surface</div>
</div><div class="ft"><span class="lv">@L3 @L2 @L1</span><span class="ct">{3130}</span></div><span class="sb"></span></div>

<div class="n" style="left:5262px;top:1512px;width:79px;height:77px"><div class="h">Code Block</div>
<div class="p cb" style="top:27px;width:61px"><span class="blue">1</span>;</div><div class="p cbo" style="top:27px">&gt;</div></div>

<div class="n" style="left:5366px;top:1338px;width:205px;height:103px"><div class="h">Surface.Thicken</div>
<div class="p pi" style="top:27px;width:124px">surface</div><div class="p pi" style="top:54px;width:124px">thickness</div>
<div class="p po" style="top:27px;width:40px">Solid</div><i class="f">|</i></div>
<div class="pv" style="left:5355px;top:1446px;width:226px;height:287px"><div class="b"><div class="r">List</div>
<div class="r a1"><i class="x">0</i>Solid</div><div class="r a1"><i class="x">1</i>Solid</div><div class="r a1"><i class="x">2</i>Solid</div><div class="r a1"><i class="x">3</i>Solid</div><div class="r a1"><i class="x">4</i>Solid</div><div class="r a1"><i class="x">5</i>Solid</div><div class="r a1"><i class="x">6</i>Solid</div><div class="r a1"><i class="x">7</i>Solid</div><div class="r a1"><i class="x">8</i>Solid</div><div class="r a1"><i class="x">9</i>Solid</div><div class="r a1"><i class="x">10</i>Solid</div><div class="r a1"><i class="x">11</i>Solid</div><div class="r a1"><i class="x">12</i>Solid</div><div class="r a1"><i class="x">13</i>Solid</div><div class="r a1"><i class="x">14</i>Solid</div><div class="r a1"><i class="x">15</i>Solid</div>
</div><div class="ft"><span class="lv">@L2 @L1</span><span class="ct">{2947}</span></div><span class="sb"></span></div>

<div class="n" style="left:5614px;top:1336px;width:183px;height:78px"><div class="h">Solid.ByUnion</div>
<div class="p pi" style="top:27px;width:102px">solids</div><div class="p po" style="top:27px;width:41px">Solid</div><i class="f">|</i></div>
<div class="pv s" style="left:5605px;top:1418px;width:203px;height:30px">Solid</div>

<div class="n" style="left:5887px;top:1257px;width:245px;height:103px"><div class="h">Geometry.Intersect</div>
<div class="p pi" style="top:27px;width:124px">geometry</div><div class="p pi" style="top:54px;width:124px">other</div>
<div class="p po" style="top:27px;width:78px">Geometry[]</div><i class="f">|</i></div>
<div class="pv" style="left:5877px;top:1365px;width:265px;height:99px"><div class="b"><div class="r">List</div><div class="r a1"><b class="t">▾</b><i>0</i> List</div><div class="r a2"><i class="x">0</i>Surface</div><div class="r a2"><i class="x">1</i>Surface</div></div><div class="ft"><span class="lv">@L3 @L2 @L1</span><span class="ct">{2}</span></div></div>

<div class="n" style="left:6282px;top:1282px;width:207px;height:78px"><div class="h">Surface.PerimeterCurves</div>
<div class="p pi" style="top:27px;width:112px">surface</div><div class="p po" style="top:27px;width:55px">Curve[]</div><i class="f">|</i></div>
<div class="pv" style="left:6236px;top:1365px;width:299px;height:286px"><div class="b"><div class="r">List</div>
<div class="r a1"><b class="t">▾</b><i>0</i> List</div>
<div class="r a2"><b class="t">▾</b><i>0</i> List</div>
<div class="r a3"><i class="x">0</i>Curve(StartPoint = Point(X =</div><div class="r a3"><i class="x">1</i>Curve(StartPoint = Point(X =</div><div class="r a3"><i class="x">2</i>Curve(StartPoint = Point(X =</div><div class="r a3"><i class="x">3</i>Curve(StartPoint = Point(X =</div><div class="r a3"><i class="x">4</i>Curve(StartPoint = Point(X =</div><div class="r a3"><i class="x">5</i>Curve(StartPoint = Point(X =</div><div class="r a3"><i class="x">6</i>Curve(StartPoint = Point(X =</div><div class="r a3"><i class="x">7</i>Curve(StartPoint = Point(X =</div><div class="r a3"><i class="x">8</i>Curve(StartPoint = Point(X =</div><div class="r a3"><i class="x">9</i>Curve(StartPoint = Point(X =</div><div class="r a3"><i class="x">10</i>Curve(StartPoint = Point(X =</div><div class="r a3"><i class="x">11</i>Curve(StartPoint = Point(X =</div><div class="r a3"><i class="x">12</i>Curve(StartPoint = Point(X =</div><div class="r a3"><i class="x">13</i>Curve(StartPoint = Point(X =</div>
</div><div class="ft"><span class="lv">@L4 @L3 @L2 @L1</span><span class="ct">{637}</span></div><span class="sb"></span></div>

<div class="n" style="left:6107px;top:1750px;width:127px;height:77px"><div class="h">Document.Current</div>
<div class="p po" style="top:27px;width:73px">Document</div><i class="f">|</i></div>

<div class="n" style="left:6328px;top:1722px;width:209px;height:77px"><div class="h">Document.ActiveView</div>
<div class="p pi" style="top:27px;width:128px">document</div><div class="p po" style="top:27px;width:40px">View</div><i class="f">|</i></div>

<div class="n" style="left:6364px;top:1951px;width:154px;height:77px"><div class="h">Code Block</div>
<div class="p cb" style="top:27px;width:136px"><span class="str">"Hidden Lines"</span>;</div><div class="p cbo" style="top:27px">&gt;</div></div>
<div class="pv s" style="left:6355px;top:2033px;width:173px;height:30px;font-size:11px">Hidden Lines</div>

<div class="n st" style="left:6742px;top:1369px;width:221px;height:104px"><div class="h">DetailCurve.ByCurve+</div>
<div class="p pi" style="top:27px;width:100px">curve</div><div class="p pi" style="top:54px;width:100px">view</div>
<div class="p po" style="top:27px;width:80px">detailCurve</div><i class="f">|</i></div>
<div class="pv" style="left:6712px;top:1478px;width:280px;height:286px"><div class="b"><div class="r">List</div>
<div class="r a1"><b class="t">▾</b><i>0</i> List</div>
<div class="r a2"><b class="t">▾</b><i>0</i> List</div>
<div class="R a3"><i class="x">0</i>DetailCurve<b class="gr">1102721</b></div><div class="R a3"><i class="x">1</i>DetailCurve<b class="gr">1102722</b></div><div class="R a3"><i class="x">2</i>DetailCurve<b class="gr">1102723</b></div><div class="R a3"><i class="x">3</i>DetailCurve<b class="gr">1102724</b></div><div class="R a3"><i class="x">4</i>DetailCurve<b class="gr">1102725</b></div><div class="R a3"><i class="x">5</i>DetailCurve<b class="gr">1102726</b></div><div class="R a3"><i class="x">6</i>DetailCurve<b class="gr">1102727</b></div><div class="R a3"><i class="x">7</i>DetailCurve<b class="gr">1102728</b></div><div class="R a3"><i class="x">8</i>DetailCurve<b class="gr">1102729</b></div><div class="R a3"><i class="x">9</i>DetailCurve<b class="gr">1102730</b></div>
</div><div class="ft"><span class="lv">@L4 @L3 @L2 @L1</span><span class="ct">{637}</span></div><span class="sb"></span></div>

<div class="cm" style="left:7231px;top:1522px"></div>
<div class="n o" style="left:7110px;top:1554px;width:270px;height:129px"><div class="h">Element.SetParameterByName</div>
<div class="p pi" style="top:27px;width:168px">element</div><div class="p pi" style="top:54px;width:168px">parameterName</div><div class="p pi" style="top:81px;width:168px">value</div>
<div class="p po" style="top:27px;width:62px">Element</div><i class="f">|</i></div>
<div class="pv" style="left:7100px;top:1688px;width:289px;height:287px"><div class="b"><div class="r">List</div>
<div class="r a1"><b class="t">▾</b><i>0</i> List</div>
<div class="r a2"><b class="t">▾</b><i>0</i> List</div>
<div class="R a3"><i class="x">0</i>DetailCurve<b class="gr">1102721</b></div><div class="R a3"><i class="x">1</i>DetailCurve<b class="gr">1102722</b></div><div class="R a3"><i class="x">2</i>DetailCurve<b class="gr">1102723</b></div><div class="R a3"><i class="x">3</i>DetailCurve<b class="gr">1102724</b></div><div class="R a3"><i class="x">4</i>DetailCurve<b class="gr">1102725</b></div><div class="R a3"><i class="x">5</i>DetailCurve<b class="gr">1102726</b></div><div class="R a3"><i class="x">6</i>DetailCurve<b class="gr">1102727</b></div><div class="R a3"><i class="x">7</i>DetailCurve<b class="gr">1102728</b></div><div class="R a3"><i class="x">8</i>DetailCurve<b class="gr">1102729</b></div><div class="R a3"><i class="x">9</i>DetailCurve<b class="gr">1102730</b></div>
</div><div class="ft"><span class="lv">@L4 @L3 @L2 @L1</span><span class="ct">{637}</span></div><span class="sb"></span></div>

<div class="n" style="left:6758px;top:1786px;width:136px;height:78px"><div class="h">Code Block</div>
<div class="p cb" style="top:27px;width:118px"><span class="str">"Line Style"</span>;</div><div class="p cbo" style="top:27px">&gt;</div></div>
<div class="pv s" style="left:6748px;top:1868px;width:156px;height:29px;font-size:11px">Line Style</div>

<div class="n st" style="left:6704px;top:1966px;width:212px;height:78px"><div class="h">Get Line Style by Name</div>
<div class="p pi" style="top:27px;width:103px">Name</div><div class="p po" style="top:27px;width:68px">Line Style</div><i class="f">|</i></div>
<div class="pv s" style="left:6694px;top:2049px;width:232px;height:35px;font-size:11px">GraphicsStyle<b class="gr" style="margin-left:8px">192</b></div>

</div>
</foreignObject>
</svg>
</body></html>
